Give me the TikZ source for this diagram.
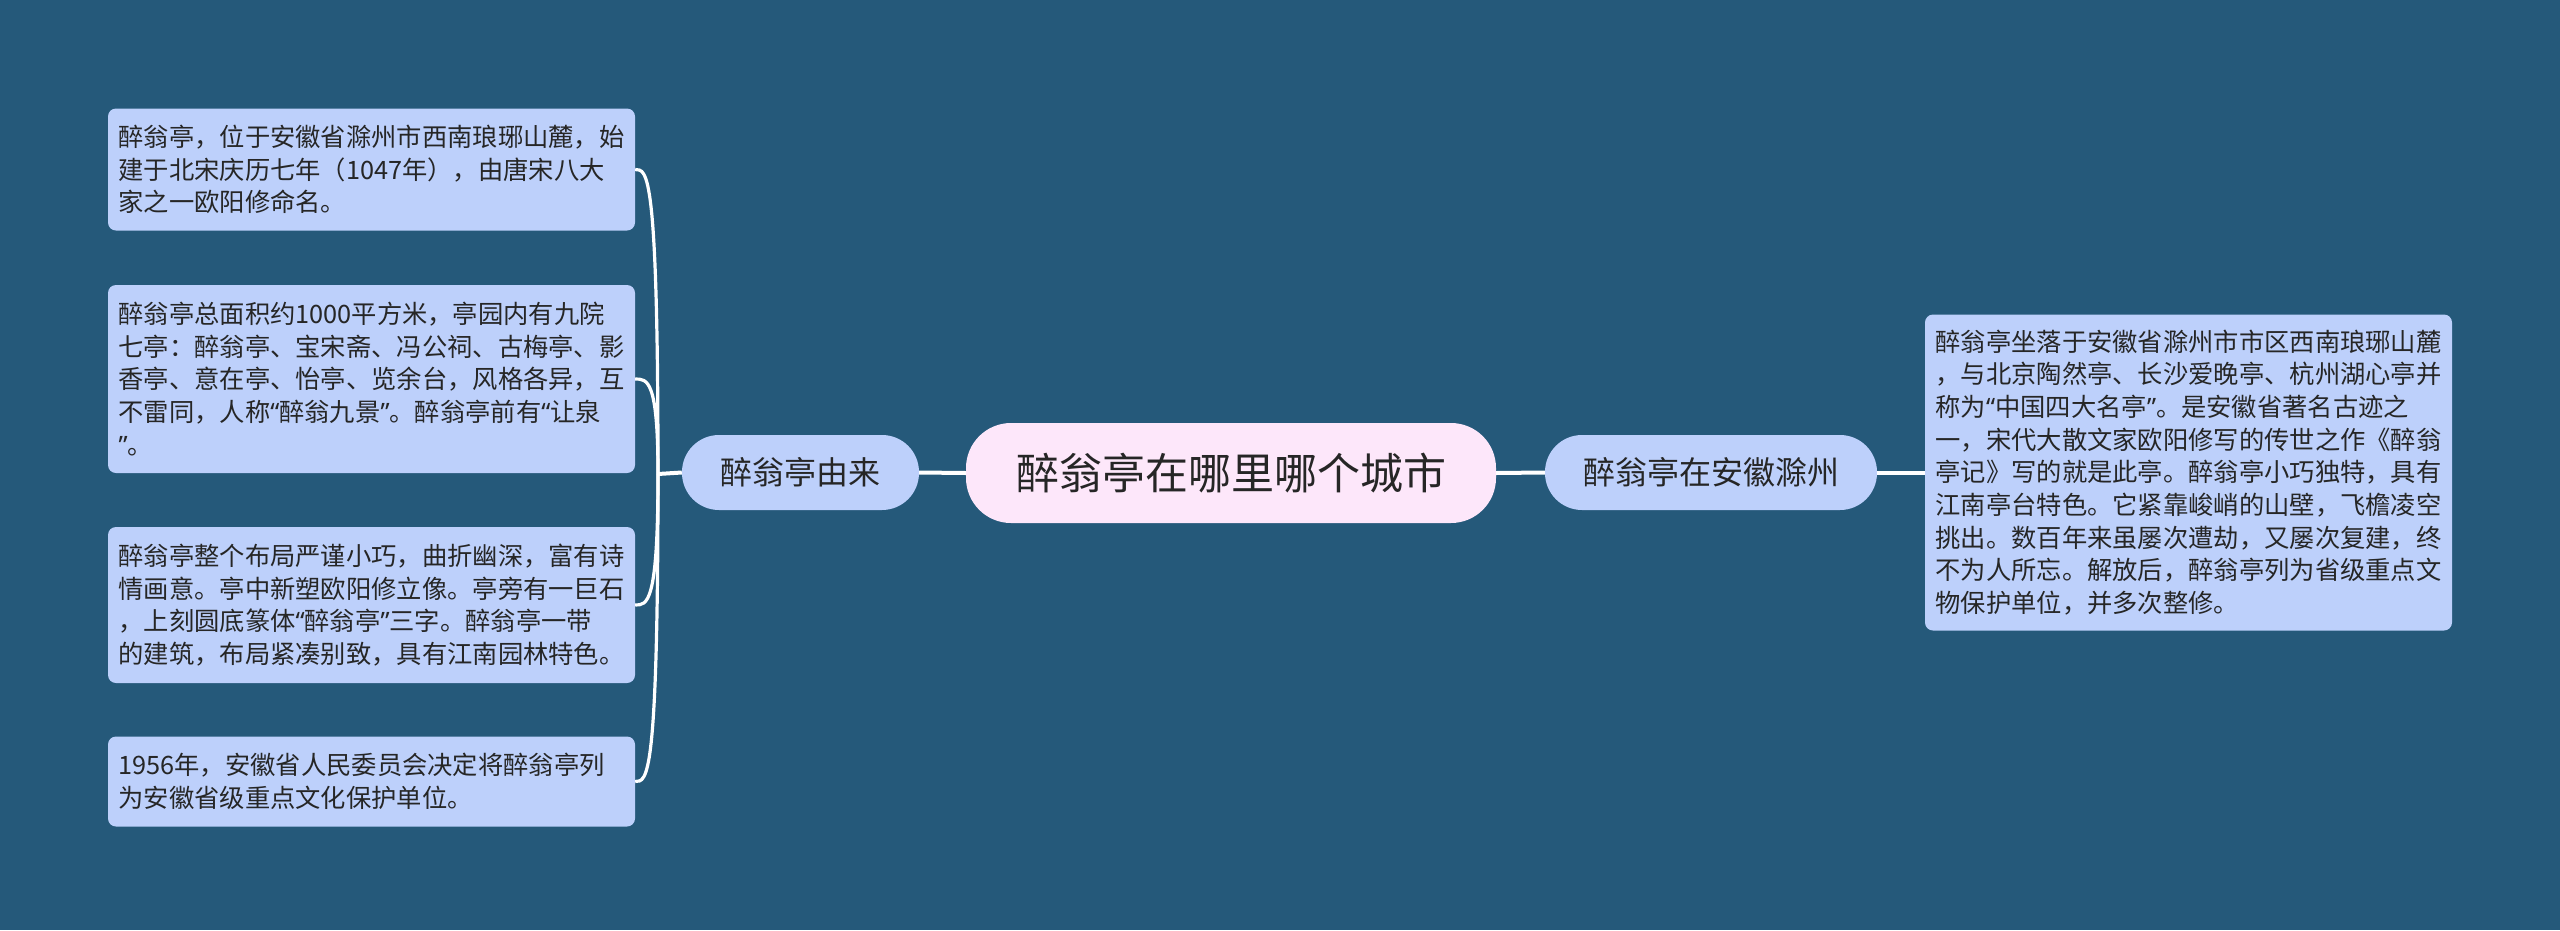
\documentclass[tikz,border=0pt]{standalone}
\usepackage{fontspec}
\setmainfont{Noto Sans CJK SC}
\newfontfamily\quotefont{Noto Sans}
\newcommand{\qopen}{{\quotefont “}}
\newcommand{\qclose}{{\quotefont ”}}
\definecolor{bg}{RGB}{37,89,122}
\definecolor{leaffill}{RGB}{189,208,251}
\definecolor{rootfill}{RGB}{253,231,250}
\definecolor{txt}{RGB}{38,38,38}
\begin{document}
\begin{tikzpicture}[x=1pt,y=-1pt,
  leafbox/.style={fill=leaffill, rounded corners=8pt, text width=506pt, align=left,
    inner xsep=10.5pt, inner ysep=0pt, text=txt, font=\fontsize{25.3}{32.7}\selectfont},
  childbox/.style={fill=leaffill, rounded corners=37pt, inner sep=0pt, minimum height=75pt,
    text=txt, font=\fontsize{32}{38}\selectfont},
  rootbox/.style={fill=rootfill, rounded corners=45pt, inner sep=0pt, minimum height=100pt,
    minimum width=530pt, text=txt, font=\fontsize{43}{50}\selectfont},
  conn/.style={draw=white, line width=4pt},
  leafconn/.style={draw=white, line width=3.2pt}]
\fill[bg] (0,0) rectangle (2560,930);
\useasboundingbox (0,0) rectangle (2560,930);

\node[rootbox] (root) at (1231,473) {醉翁亭在哪里哪个城市};
\node[childbox, minimum width=237pt] (lc) at (800.5,472.5) {醉翁亭由来};
\node[childbox, minimum width=332pt] (rc) at (1711,472.5) {醉翁亭在安徽滁州};

\node[leafbox, minimum height=122pt] (l1) at (371.5,169.5) {醉翁亭，位于安徽省滁州市西南琅琊山麓，始\\
建于北宋庆历七年（1047年），由唐宋八大\\
家之一欧阳修命名。};
\node[leafbox, minimum height=188pt] (l2) at (371.5,379) {醉翁亭总面积约1000平方米，亭园内有九院\\
七亭：醉翁亭、宝宋斋、冯公祠、古梅亭、影\\
香亭、意在亭、怡亭、览余台，风格各异，互\\
不雷同，人称\qopen 醉翁九景\qclose 。醉翁亭前有\qopen 让泉\\
\qclose 。};
\node[leafbox, minimum height=156pt] (l3) at (371.5,605) {醉翁亭整个布局严谨小巧，曲折幽深，富有诗\\
情画意。亭中新塑欧阳修立像。亭旁有一巨石\\
，上刻圆底篆体\qopen 醉翁亭\qclose 三字。醉翁亭一带\\
的建筑，布局紧凑别致，具有江南园林特色。};
\node[leafbox, minimum height=90pt] (l4) at (371.5,781.5) {1956年，安徽省人民委员会决定将醉翁亭列\\
为安徽省级重点文化保护单位。};

\node[leafbox, minimum height=316pt] (rl) at (2188.5,472.5) {醉翁亭坐落于安徽省滁州市市区西南琅琊山麓\\
，与北京陶然亭、长沙爱晚亭、杭州湖心亭并\\
称为\qopen 中国四大名亭\qclose 。是安徽省著名古迹之\\
一，宋代大散文家欧阳修写的传世之作《醉翁\\
亭记》写的就是此亭。醉翁亭小巧独特，具有\\
江南亭台特色。它紧靠峻峭的山壁，飞檐凌空\\
挑出。数百年来虽屡次遭劫，又屡次复建，终\\
不为人所忘。解放后，醉翁亭列为省级重点文\\
物保护单位，并多次整修。};

\draw[conn] (root.west) -- (lc.east);
\draw[conn] (root.east) -- (rc.west);
\draw[conn] (rc.east) -- (rl.west);

\coordinate (j) at (658,474);
\draw[conn] (lc.west) -- (j);
\foreach \n in {l1,l2,l3,l4}{
  \draw[leafconn] (j) .. controls (j |- \n.east) and ([xshift=12pt]\n.east) .. (\n.east);
}
\end{tikzpicture}
\end{document}
